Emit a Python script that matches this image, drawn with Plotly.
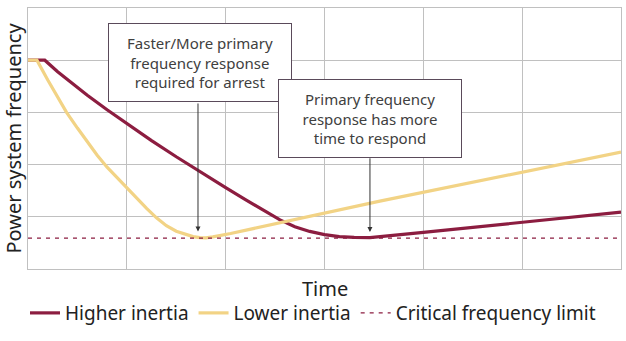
import plotly.graph_objects as go

# Data (arbitrary units: time 0..6, frequency 0..5)
t_high = [0, 0.17, 0.3, 0.45, 0.6, 0.8, 1.0, 1.25, 1.5, 1.75, 2.0, 2.2, 2.4, 2.55, 2.7, 2.85, 3.0, 3.15, 3.3, 3.46, 4.0, 5.0, 6.0]
f_high = [4.0, 4.0, 3.78, 3.55, 3.33, 3.05, 2.78, 2.46, 2.15, 1.85, 1.56, 1.33, 1.1, 0.94, 0.81, 0.72, 0.66, 0.62, 0.605, 0.60, 0.70, 0.90, 1.09]

t_low = [0, 0.09, 0.2, 0.3, 0.39, 0.5, 0.6, 0.7, 0.8, 0.9, 1.0, 1.1, 1.2, 1.3, 1.4, 1.5, 1.6, 1.67, 1.74, 1.8, 1.87, 1.95, 2.05, 3.56, 5.0, 6.0]
f_low = [4.0, 4.0, 3.62, 3.29, 3.0, 2.7, 2.43, 2.18, 1.95, 1.75, 1.56, 1.36, 1.16, 0.98, 0.83, 0.725, 0.655, 0.62, 0.60, 0.597, 0.615, 0.645, 0.68, 1.3, 1.86, 2.24]

t_crit = [0, 6]
f_crit = [0.59, 0.59]

labels = ["Higher inertia", "Lower inertia", "Critical frequency limit"]
x_title = "Time"
y_title = "Power system frequency"

red = "#8C1D40"
yellow = "#F2D385"

fig = go.Figure()
fig.add_trace(go.Scatter(x=t_high, y=f_high, mode="lines", name=labels[0],
                         line=dict(color=red, width=3.2, shape="linear")))
fig.add_trace(go.Scatter(x=t_low, y=f_low, mode="lines", name=labels[1],
                         line=dict(color=yellow, width=3.2, shape="linear")))
fig.add_trace(go.Scatter(x=t_crit, y=f_crit, mode="lines", name=labels[2],
                         line=dict(color=red, width=1.2, dash="4px,5px")))

box_font = dict(family="Noto Sans", size=15, color="#404040")
fig.add_annotation(x=1.72, y=0.72, ax=1.72, ay=3.2, xref="x", yref="y", axref="x", ayref="y",
                   showarrow=True, arrowhead=2, arrowsize=1, arrowwidth=1, arrowcolor="#333",
                   text="")
fig.add_annotation(x=3.46, y=0.71, ax=3.46, ay=2.15, xref="x", yref="y", axref="x", ayref="y",
                   showarrow=True, arrowhead=2, arrowsize=1, arrowwidth=1, arrowcolor="#333",
                   text="")
fig.add_annotation(x=1.74, y=3.96, xref="x", yref="y", showarrow=False,
                   text="Faster/More primary<br>frequency response<br>required for arrest",
                   font=box_font, bgcolor="white", bordercolor="#5a4a5a", borderwidth=1,
                   borderpad=6, width=170, height=65, align="center")
fig.add_annotation(x=3.46, y=2.89, xref="x", yref="y", showarrow=False,
                   text="Primary frequency<br>response has more<br>time to respond",
                   font=box_font, bgcolor="white", bordercolor="#5a4a5a", borderwidth=1,
                   borderpad=6, width=170, height=65, align="center")
# x-axis title placed as paper annotation for exact position
fig.add_annotation(x=0.5, y=-0.073, xref="paper", yref="paper", showarrow=False,
                   text=x_title, font=dict(size=20, color="#222"),
                   xanchor="center", yanchor="middle")

fig.update_layout(
    width=626, height=341,
    margin=dict(l=28, r=5, t=8, b=72, autoexpand=False),
    plot_bgcolor="white", paper_bgcolor="white",
    font=dict(family="Noto Sans", color="#222"),
    showlegend=True,
    legend=dict(orientation="h", x=0.5, xanchor="center", xref="container",
                y=0.082, yanchor="middle", yref="container",
                font=dict(size=19, color="#222"), itemwidth=30, tracegroupgap=0,
                bgcolor="rgba(0,0,0,0)"),
)
fig.update_xaxes(range=[0, 6], dtick=1, showticklabels=False, showgrid=True,
                 gridcolor="#c0c0c0", gridwidth=1, zeroline=False, automargin=False,
                 showline=True, linecolor="#c0c0c0", mirror=True, ticks="")
fig.update_yaxes(range=[0, 5], dtick=1, showticklabels=False, showgrid=True,
                 gridcolor="#c0c0c0", gridwidth=1, zeroline=False, automargin=False,
                 showline=True, linecolor="#c0c0c0", mirror=True, ticks="",
                 title=dict(text=y_title, font=dict(size=20, color="#222"), standoff=2))

fig.write_html("out.html")
